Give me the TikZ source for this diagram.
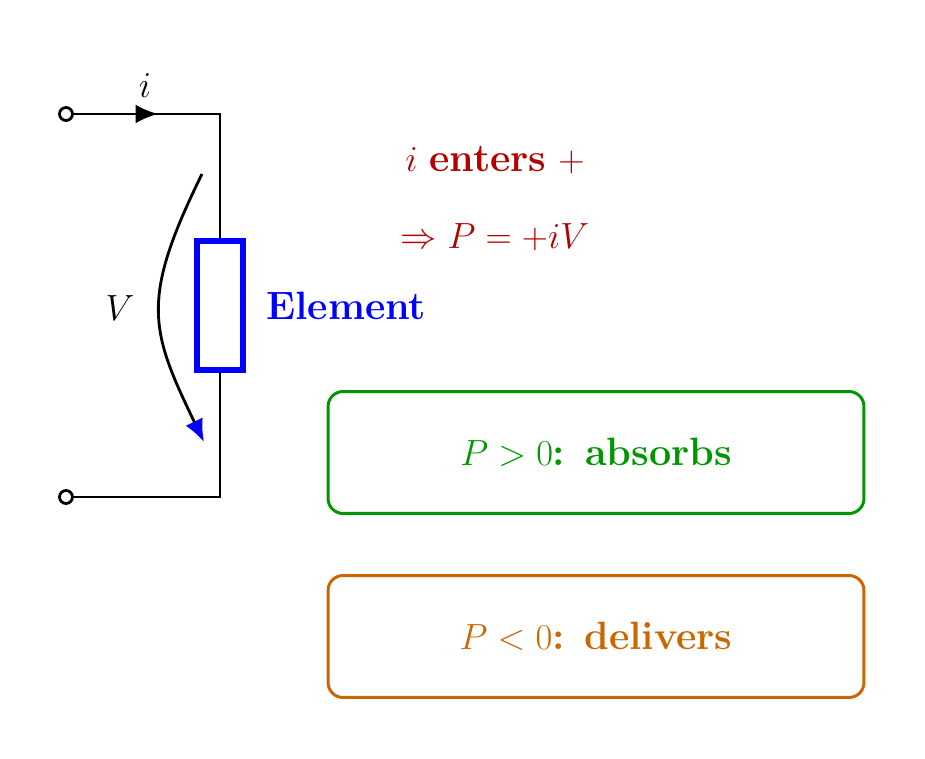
\documentclass[tikz,border=0pt]{standalone}
\usetikzlibrary{arrows.meta}
\definecolor{dred}{RGB}{180,0,0}
\definecolor{dgreen}{RGB}{0,150,0}
\definecolor{dorange}{RGB}{204,102,0}
\begin{document}
\begin{tikzpicture}[x=0.02cm,y=-0.02cm,
  wire/.style={line width=1.6pt,black},
  term/.style={circle,draw,line width=1.6pt,fill=white,inner sep=0pt,minimum size=0.26cm},
  lbl/.style={font=\fontsize{22.5}{26}\selectfont},
  box/.style={draw,line width=1.7pt,rounded corners=0.3cm,minimum width=10.72cm,minimum height=2.44cm,font=\fontsize{22.5}{26}\selectfont}]
\useasboundingbox (0,0) rectangle (925,759);
\node[term] (t1) at (66,114) {};
\node[term] (t2) at (66,497) {};
\coordinate (c1) at (220,114);
\coordinate (c2) at (220,497);
\node[draw=blue,line width=3.5pt,minimum width=0.92cm,minimum height=2.58cm,inner sep=0pt] (R) at (220,305.5) {};
\draw[wire] (t1) -- (c1) -- (R.north);
\draw[wire] (R.south) -- (c2) -- (t2);
\coordinate (a1) at (158,114);
\draw[wire,-{Latex[length=0.45cm,width=0.38cm]}] (t1) -- (a1);
\node[lbl] (il) at (145,86) {$i$};
\coordinate (v1) at (202,174);
\coordinate (v2) at (204,442);
\draw[line width=1.6pt,-{Latex[length=0.45cm,width=0.38cm,color=blue,fill=blue]}] (v1) .. controls (140,300) and (150,330) .. (v2);
\node[lbl] (V) at (120,308) {$V$};
\node[lbl,text=blue,anchor=west] (el) at (260,306) {\textbf{Element}};
\node[lbl,text=dred] (e1) at (495,160) {$i$ \textbf{enters} $+$};
\node[lbl,text=dred] (e2) at (495,237) {$\Rightarrow P=+iV$};
\node[box,draw=dgreen,text=dgreen] (b1) at (596,452.5) {$P>0$\textbf{: absorbs}};
\node[box,draw=dorange,text=dorange] (b2) at (596,636.5) {$P<0$\textbf{: delivers}};
\end{tikzpicture}
\end{document}
